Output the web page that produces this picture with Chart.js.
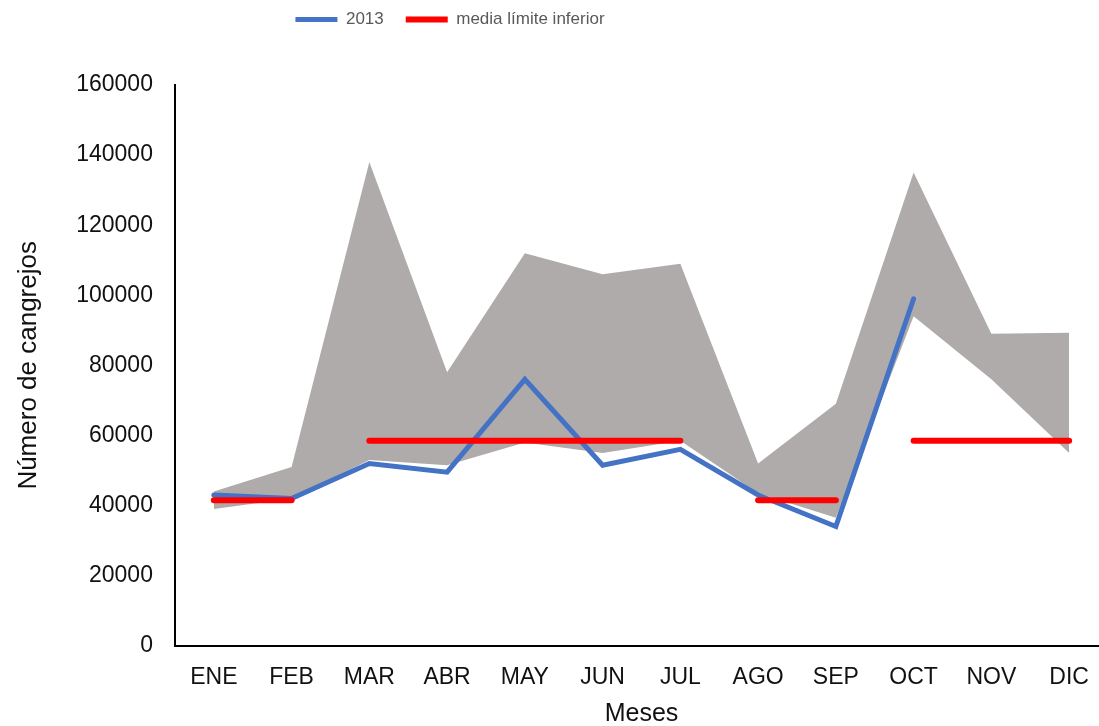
<!DOCTYPE html>
<html>
<head>
<meta charset="utf-8">
<script src="https://cdn.jsdelivr.net/npm/chart.js@4.4.1/dist/chart.umd.min.js"></script>
<style>
  html, body { margin: 0; padding: 0; overflow: hidden; background: #fff; }
  #wrap { width: 1110px; height: 726px; position: relative; }
</style>
</head>
<body>
<div id="wrap"><canvas id="myChart"></canvas></div>
<script>
// Datos
const MESES = ['ENE', 'FEB', 'MAR', 'ABR', 'MAY', 'JUN', 'JUL', 'AGO', 'SEP', 'OCT', 'NOV', 'DIC'];
const SERIE_2013 = [43000, 42000, 52000, 49500, 76000, 51500, 56000, 43000, 34000, 99000, null, null];
const MEDIA_INFERIOR = [41500, 41500, 58500, 58500, 58500, 58500, 58500, 41500, 41500, 58500, 58500, 58500];
const BANDA_SUPERIOR = [44000, 51000, 138000, 78000, 112000, 106000, 109000, 52000, 69000, 135000, 89000, 89300];
const BANDA_INFERIOR = [39000, 42000, 53000, 51500, 58000, 55000, 58500, 43500, 36500, 94000, 76000, 55000];
const Y_TICKS = { min: 0, max: 160000, step: 20000 };

const FONT = "'Liberation Sans', Arial, sans-serif";

// Leyenda corrida hacia la izquierda y arriba como en el original
const legendShift = {
    id: 'legendShift',
    afterLayout(chart) {
        const lg = chart.legend;
        lg.left -= 104;
        lg.right -= 104;
        lg.top -= 47;
        lg.bottom -= 47;
    }
};

const ctx = document.getElementById('myChart');

new Chart(ctx, {
    type: 'line',
    data: {
        labels: MESES,
        datasets: [
            {
                label: '2013',
                data: SERIE_2013,
                borderColor: '#4472C4',
                backgroundColor: '#4472C4',
                borderWidth: 5,
                borderCapStyle: 'round',
                borderJoinStyle: 'miter',
                pointRadius: 0,
                fill: false,
                order: 1
            },
            {
                label: 'media límite inferior',
                data: MEDIA_INFERIOR,
                borderColor: '#FF0000',
                backgroundColor: '#FF0000',
                borderWidth: 6,
                borderCapStyle: 'round',
                pointRadius: 0,
                fill: false,
                order: 0,
                segment: {
                    borderColor: c => c.p0.parsed.y !== c.p1.parsed.y ? 'rgba(0,0,0,0)' : '#FF0000'
                }
            },
            {
                label: 'max',
                data: BANDA_SUPERIOR,
                borderWidth: 0,
                borderColor: 'rgba(0,0,0,0)',
                backgroundColor: '#AFABAB',
                pointRadius: 0,
                fill: '+1',
                order: 2
            },
            {
                label: 'min',
                data: BANDA_INFERIOR,
                borderWidth: 1.5,
                borderColor: '#FFFFFF',
                pointRadius: 0,
                fill: false,
                order: 3
            }
        ]
    },
    options: {
        responsive: true,
        maintainAspectRatio: false,
        animation: false,
        layout: { padding: { left: 0, right: 2, top: 36, bottom: 0 } },
        plugins: {
            tooltip: { enabled: false },
            legend: {
                position: 'top',
                labels: {
                    filter: item => item.datasetIndex < 2,
                    sort: (a, b) => a.datasetIndex - b.datasetIndex,
                    usePointStyle: true,
                    pointStyle: 'line',
                    pointStyleWidth: 42,
                    padding: 22,
                    color: '#595959',
                    font: { family: FONT, size: 17 }
                }
            }
        },
        scales: {
            x: {
                offset: true,
                grid: { display: false, drawTicks: false },
                border: { display: true, color: '#000', width: 2 },
                ticks: {
                    color: '#111',
                    padding: 18,
                    font: { family: FONT, size: 23 }
                },
                title: {
                    display: true,
                    text: 'Meses',
                    color: '#111',
                    padding: { top: -7, bottom: 0 },
                    font: { family: FONT, size: 25, lineHeight: 0.95 }
                }
            },
            y: {
                min: Y_TICKS.min,
                max: Y_TICKS.max,
                grid: { display: false, drawTicks: false },
                border: { display: true, color: '#000', width: 2 },
                ticks: {
                    stepSize: Y_TICKS.step,
                    color: '#111',
                    padding: 22,
                    font: { family: FONT, size: 23 },
                    callback: v => String(v)
                },
                title: {
                    display: true,
                    text: 'Número de cangrejos',
                    color: '#111',
                    padding: { top: 13, bottom: 10 },
                    font: { family: FONT, size: 26, lineHeight: 1.2 }
                }
            }
        }
    },
    plugins: [legendShift]
});
</script>
</body>
</html>
